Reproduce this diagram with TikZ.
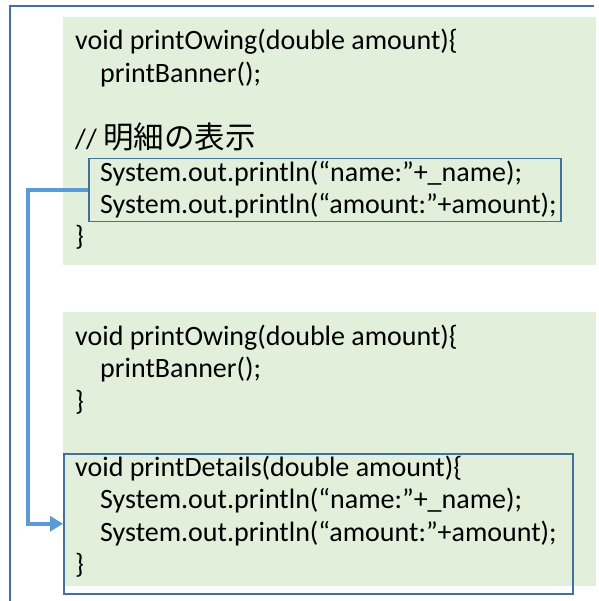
\documentclass[tikz,border=0pt]{standalone}
\usepackage{fontspec}
\setmainfont{Carlito}
\newfontfamily\jpfont{Noto Sans CJK JP}
\usetikzlibrary{arrows.meta}
\definecolor{paleGreen}{RGB}{226,239,218}
\definecolor{frameBlue}{RGB}{65,113,156}
\definecolor{arrowBlue}{RGB}{91,155,213}

\begin{document}
\begin{tikzpicture}[x=1pt,y=-1pt,
  code/.style={anchor=base west,inner sep=0pt,font=\fontsize{28}{32.5}\selectfont},
  greenbox/.style={fill=paleGreen,draw=none,anchor=north west,inner sep=0pt},
  selbox/.style={draw=frameBlue,line width=1.5pt,anchor=north west,inner sep=0pt},
  moveline/.style={draw=arrowBlue,line width=4.5pt,-{Triangle[length=13pt,width=15pt]}}]
\useasboundingbox (0,0) rectangle (598,601);
% outer frame
\draw[frameBlue,line width=2.5pt] (594,6) -- (10,6) -- (10,606);
% before
\node[greenbox,minimum width=533pt,minimum height=248pt] (before) at (63,17) {};
\node[selbox,minimum width=472pt,minimum height=63pt] (sel) at (88,158) {};
\node[code] (b1) at (75,50) {void printOwing(double amount)\{};
\node[code] (b2) at (100,82.5) {printBanner();};
\node[code] (b3) at (75,148.5) {// {\jpfont\fontsize{30.5}{32.5}\selectfont 明細の表示}};
\node[code] (b4) at (100,181.5) {System.out.println(“name:”+\_name);};
\node[code] (b5) at (100,213.5) {System.out.println(“amount:”+amount);};
\node[code] (b6) at (75,245.5) {\}};
% after
\node[greenbox,minimum width=533pt,minimum height=274pt] (after) at (63,312) {};
\node[selbox,minimum width=509pt,minimum height=140pt] (ext) at (63,453) {};
\node[code] (a1) at (75,345) {void printOwing(double amount)\{};
\node[code] (a2) at (100,377.5) {printBanner();};
\node[code] (a3) at (75,410) {\}};
\node[code] (a4) at (75,476) {void printDetails(double amount)\{};
\node[code] (a5) at (100,508.5) {System.out.println(“name:”+\_name);};
\node[code] (a6) at (100,541) {System.out.println(“amount:”+amount);};
\node[code] (a7) at (75,573.5) {\}};
% extract arrow
\draw[moveline] (sel.west) -- ++(-60,0) |- (ext.west);
\end{tikzpicture}
\end{document}
